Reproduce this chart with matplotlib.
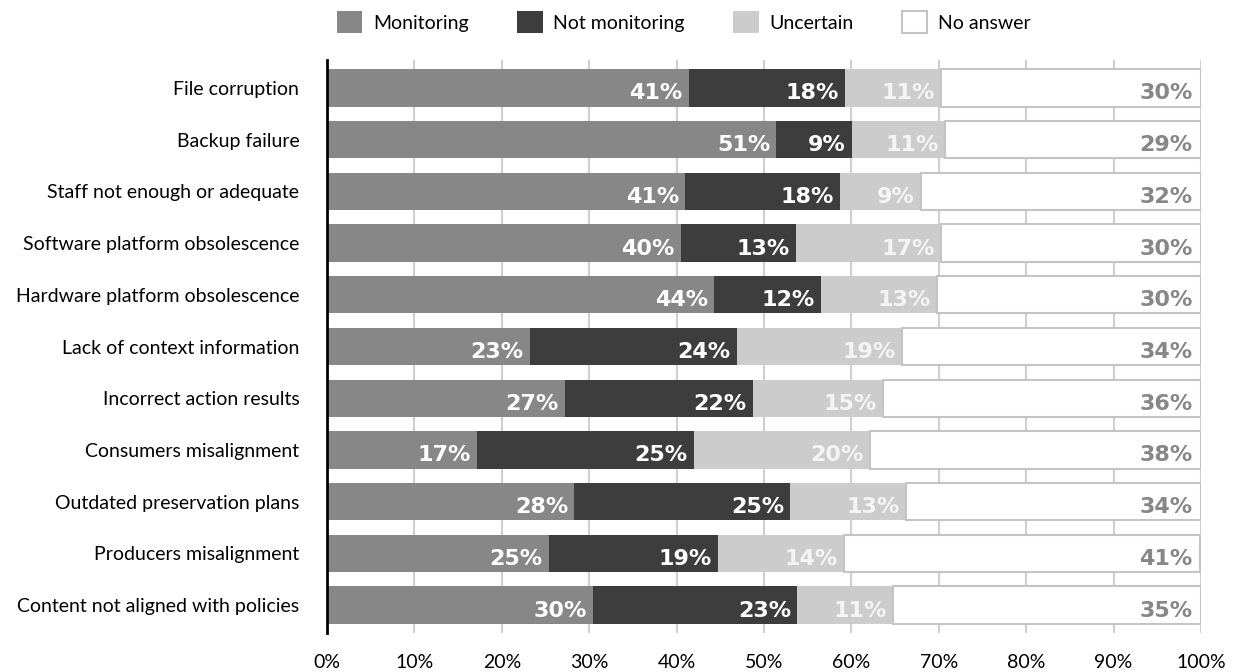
import matplotlib.pyplot as plt
import numpy as np

plt.rcParams['font.family'] = ['Lato', 'DejaVu Sans']

categories = [
    "File corruption",
    "Backup failure",
    "Staff not enough or adequate",
    "Software platform obsolescence",
    "Hardware platform obsolescence",
    "Lack of context information",
    "Incorrect action results",
    "Consumers misalignment",
    "Outdated preservation plans",
    "Producers misalignment",
    "Content not aligned with policies",
]

# shares in percent per risk
monitoring = [41.4, 51.4, 41.0, 40.5, 44.3, 23.2, 27.2, 17.2, 28.3, 25.4, 30.4]
not_monitoring = [17.9, 8.7, 17.7, 13.2, 12.2, 23.7, 21.5, 24.8, 24.7, 19.3, 23.4]
uncertain = [11.0, 10.6, 9.3, 16.6, 13.3, 18.9, 14.9, 20.1, 13.3, 14.4, 11.0]
no_answer = [29.7, 29.3, 32.0, 29.7, 30.2, 34.2, 36.4, 37.9, 33.7, 40.8, 35.2]

series_names = ["Monitoring", "Not monitoring", "Uncertain", "No answer"]
fills = ["#878787", "#3d3d3d", "#cccccc", "#ffffff"]
edges = ["#878787", "#3d3d3d", "#cccccc", "#c4c4c4"]
label_colors = ["white", "white", "#f4f4f4", "#878787"]

fig = plt.figure(figsize=(12.36, 6.72), dpi=100)
ax = fig.add_axes([0.2646, 0.058, 0.7071, 0.8527])

y = np.arange(len(categories))
left = np.zeros(len(categories))
for vals, name, fc, ec, lc in zip([monitoring, not_monitoring, uncertain, no_answer],
                                  series_names, fills, edges, label_colors):
    vals = np.array(vals)
    lw = 1.5 if name == "No answer" else 0
    ax.barh(y, vals, left=left, height=0.72, color=fc, edgecolor=ec,
            linewidth=lw, label=name, zorder=3)
    pad = -6 if name == "No answer" else -4.5
    for yi, l, v in zip(y, left, vals):
        ax.annotate(f"{round(v)}%", xy=(l + v, yi), xytext=(pad, -8.3),
                    textcoords="offset points", ha="right", va="baseline",
                    fontsize=16, fontweight="bold", family="DejaVu Sans",
                    color=lc, zorder=4)
    left += vals

ax.set_xlim(0, 100)
ax.set_ylim(len(categories) - 0.46, -0.54)
ax.set_xticks(np.arange(0, 101, 10))
ax.set_xticklabels([f"{t}%" for t in range(0, 101, 10)], fontsize=14)
ax.set_yticks(y)
ax.set_yticklabels(categories, fontsize=14)
ax.tick_params(axis="x", length=0, pad=15)
ax.tick_params(axis="y", length=0, pad=20)

ax.xaxis.grid(True, color="#cfcfcf", linewidth=1.5, zorder=0)
ax.set_axisbelow(True)
for s in ["top", "right", "bottom"]:
    ax.spines[s].set_visible(False)
ax.spines["left"].set_linewidth(2)
ax.spines["left"].set_color("black")
ax.spines["left"].set_zorder(5)

fig.legend(loc="center", bbox_to_anchor=(684 / 1236, 1 - 22 / 672), ncol=4,
           frameon=False, fontsize=14, handlelength=1.3, handleheight=1.3,
           handletextpad=0.55, columnspacing=2.5)

fig.savefig("out.png", dpi=100)
